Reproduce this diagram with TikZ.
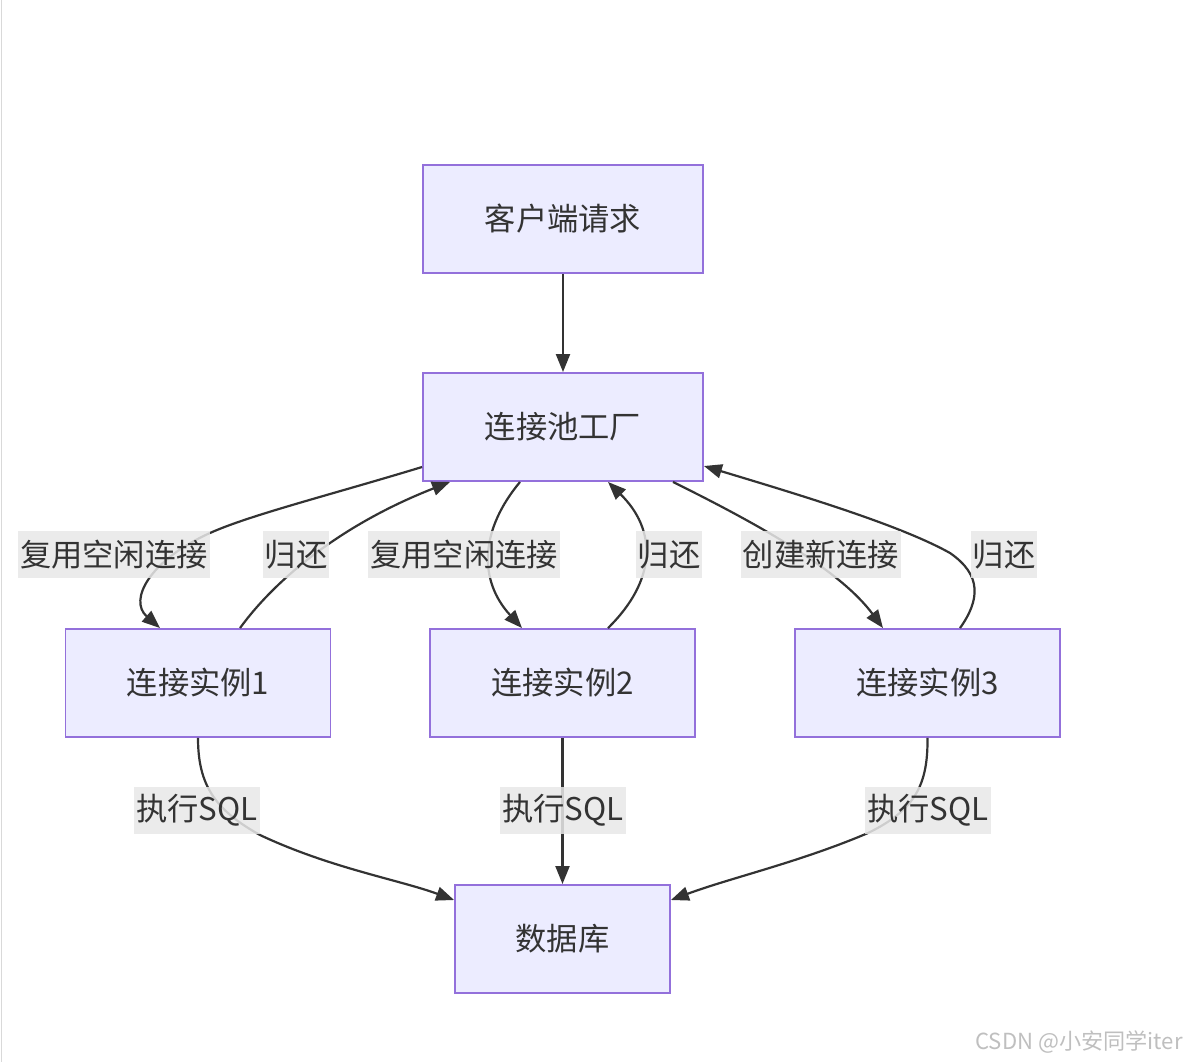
\documentclass[tikz,border=0pt]{standalone}
\usepackage{fontspec}
\setmainfont{Noto Sans CJK SC}
\usetikzlibrary{arrows.meta,calc}
\definecolor{boxfill}{HTML}{ECECFF}
\definecolor{boxline}{HTML}{9370DB}
\definecolor{ink}{HTML}{333333}
\definecolor{tagfill}{HTML}{E8E8E8}

\begin{document}
\begin{tikzpicture}[x=0.02cm,y=-0.02cm,
    box/.style={draw=boxline,fill=boxfill,line width=1.1pt,text=ink,minimum height=2.16cm,inner sep=0pt,font=\fontsize{17.8}{20}\selectfont},
    tag/.style={fill=tagfill,fill opacity=0.85,text opacity=1,text=ink,inner sep=0pt,inner xsep=0.04cm,minimum height=0.94cm,font=\fontsize{17.8}{20}\selectfont},
    link/.style={draw=ink,line width=1.25pt,-{Triangle[length=0.36cm,width=0.28cm]}}]
    \useasboundingbox (0,0) rectangle (1191,1062);
    \draw[gray!30,line width=0.04cm] (1.5,0) -- (1.5,1062);
    \node[box,minimum width=5.6cm] (client) at (563,219) {客户端请求};
    \node[box,minimum width=5.6cm] (pool) at (563,427) {连接池工厂};
    \node[box,minimum width=5.3cm] (conn1) at (198,683) {连接实例1};
    \node[box,minimum width=5.3cm] (conn2) at (562.5,683) {连接实例2};
    \node[box,minimum width=5.3cm] (conn3) at (927.5,683) {连接实例3};
    \node[box,minimum width=4.3cm] (db) at (562.5,939) {数据库};
    \draw[link] (client) -- (pool);
    \draw[link] ($(pool.west)+(0,40)$) .. controls (330,495) and (250,515) .. (210,533) .. controls (150,560) and (128,600) .. ($(conn1.north)+(-38,0)$);
    \draw[link] ($(conn1.north)+(42,0)$) .. controls (275,580) and (340,525) .. ($(pool.south)+(-113,0)$);
    \draw[link] ($(pool.south)+(-43,0)$) .. controls (480,530) and (478,580) .. ($(conn2.north)+(-40.5,0)$);
    \draw[link] ($(conn2.north)+(45.5,0)$) .. controls (657,580) and (657,530) .. ($(pool.south)+(45,0)$);
    \draw[link] ($(pool.south)+(110,0)$) .. controls (760,525) and (840,570) .. ($(conn3.north)+(-44.5,0)$);
    \draw[link] ($(conn3.north)+(32.5,0)$) .. controls (980,600) and (982,575) .. (950,553) .. controls (900,525) and (800,495) .. ($(pool.east)+(0,39)$);
    \draw[link] (conn1.south) .. controls (198,785) and (215,810) .. (260,835) .. controls (330,868) and (400,880) .. ($(db.west)+(0,-39)$);
    \draw[link] (conn2) -- (db);
    \draw[link] (conn3.south) .. controls (928,785) and (915,810) .. (868,833) .. controls (800,862) and (730,878) .. ($(db.east)+(0,-39)$);
    \node[tag] (reuse1) at (114,554.5) {复用空闲连接};
    \node[tag] (back1) at (296,554.5) {归还};
    \node[tag] (reuse2) at (464,554.5) {复用空闲连接};
    \node[tag] (back2) at (669,554.5) {归还};
    \node[tag] (create3) at (821,554.5) {创建新连接};
    \node[tag] (back3) at (1004,554.5) {归还};
    \node[tag] (sql1) at (197,810.5) {执行SQL};
    \node[tag] (sql2) at (563,810.5) {执行SQL};
    \node[tag] (sql3) at (928,810.5) {执行SQL};
    \node[text=gray!50,font=\fontsize{12.6}{14}\selectfont,anchor=east] (mark) at (1189,1042) {CSDN @小安同学iter};
\end{tikzpicture}
\end{document}
